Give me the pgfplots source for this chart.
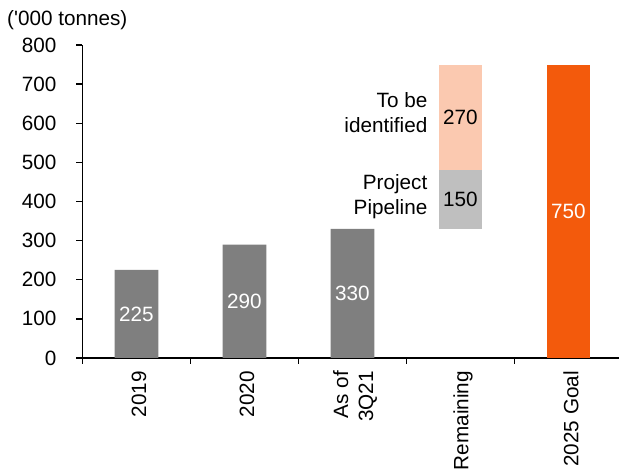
\documentclass[border=0pt]{standalone}
\usepackage{pgfplots}
\pgfplotsset{compat=1.18}
\usepackage{fontspec}
\setmainfont{Liberation Sans}
\definecolor{dgray}{RGB}{127,127,127}
\definecolor{lgray}{RGB}{191,191,191}
\definecolor{peach}{RGB}{251,201,176}
\definecolor{orng}{RGB}{243,90,12}
\begin{document}
\fontsize{20.7}{25}\selectfont
\begin{tikzpicture}
\begin{axis}[
  scale only axis,
  width=540pt, height=313pt,
  at={(0,0)}, anchor=south west,
  xmin=-0.5, xmax=4.5,
  ymin=0, ymax=800,
  ytick={0,100,...,800},
  axis lines=left,
  axis line style={line width=1.5pt, -},
  every tick/.style={line width=1.5pt, black},
  tick align=outside,
  major tick length=6pt,
  minor tick length=6pt,
  xtick={0,1,2,3,4},
  x tick style={draw=none},
  minor xtick={-0.5,0.5,1.5,2.5,3.5},
  minor x tick style={draw=black, line width=1.5pt},
  xticklabels={2019,2020,{As of\\3Q21},Remaining,2025 Goal},
  xticklabel style={rotate=90, anchor=east, align=right, yshift=-2.5pt, font=\fontsize{20.7}{25}\selectfont},
  yticklabel style={xshift=-13pt, font=\fontsize{20.7}{25}\selectfont},
  /pgf/number format/assume math mode=true,
  ybar stacked,
  bar width=0.405,
  clip=false,
]
\addplot[fill=dgray, draw=none] coordinates {(0,225) (1,290) (2,330) (3,0) (4,0)};
\addplot[fill=none, draw=none] coordinates {(0,0) (1,0) (2,0) (3,330) (4,0)};
\addplot[fill=lgray, draw=none] coordinates {(0,0) (1,0) (2,0) (3,150) (4,0)};
\addplot[fill=peach, draw=none] coordinates {(0,0) (1,0) (2,0) (3,270) (4,0)};
\addplot[fill=orng, draw=none] coordinates {(0,0) (1,0) (2,0) (3,0) (4,750)};
\end{axis}
\begin{axis}[
  scale only axis,
  width=540pt, height=313pt,
  at={(0,0)}, anchor=south west,
  xmin=-0.5, xmax=4.5,
  ymin=0, ymax=800,
  hide axis,
  clip=false,
  nodes near coords,
  point meta=explicit symbolic,
  every node near coord/.append style={anchor=center, font=\fontsize{20.7}{25}\selectfont},
]
\addplot[only marks, mark=none, nodes near coords style={text=white}] coordinates {(0,112.5)[225] (1,145)[290] (2,165)[330] (4,375)[750]};
\addplot[only marks, mark=none, nodes near coords style={text=black}] coordinates {(3,405)[150] (3,615)[270]};
\node[anchor=east, align=right, inner sep=0pt] at (axis cs:2.695,628) {To be\\identified};
\node[anchor=east, align=right, inner sep=0pt] at (axis cs:2.695,412) {Project\\Pipeline};
\node[anchor=west, inner sep=0pt] at (axis description cs:0,1) [xshift=-75.5pt, yshift=25pt] {(\textquotesingle000 tonnes)};
\end{axis}
\pgfresetboundingbox
\path[use as bounding box] (-82.5pt,-115pt) rectangle (536.5pt,358pt);
\end{tikzpicture}
\end{document}
